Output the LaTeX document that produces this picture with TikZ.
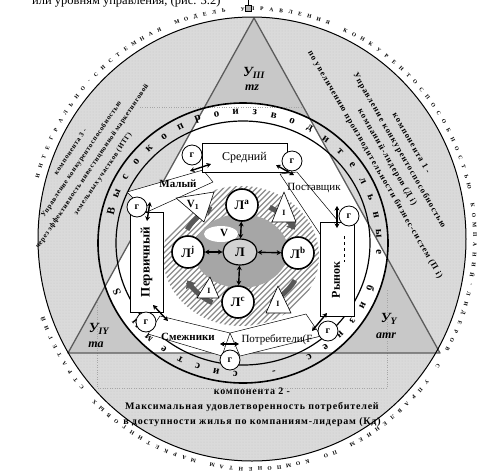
\documentclass[tikz,border=0pt]{standalone}
\usepackage{fontspec}
\setmainfont{Liberation Serif}
\newfontfamily\spacedr[LetterSpace=12]{Liberation Serif}
\newfontfamily\spacedl[LetterSpace=8]{Liberation Serif}
\newfontfamily\spacedb[LetterSpace=8]{Liberation Serif}
\usetikzlibrary{arrows.meta,patterns,shapes.geometric}
\definecolor{dotgrey}{HTML}{DADADA}
\definecolor{cornergrey}{HTML}{C8C8C8}
\definecolor{diskgrey}{HTML}{A6A6A6}
\definecolor{darkarrow}{HTML}{575757}
\definecolor{edgegrey}{HTML}{5C5C5C}
\definecolor{hatchgrey}{HTML}{8A8A8A}
\makeatletter
\newcount\rtcnt
\newcommand\ringletters[8]{%
  \global\rtcnt=0\relax
  \@tfor\rt@ch:=#8\do{%
    \pgfmathsetmacro\rt@a{#5-#6*\the\rtcnt}%
    \if\rt@ch*\relax\else
      \node[#7,rotate=\rt@a-90] at ({#1+#3*cos(\rt@a)},{#2-#4*sin(\rt@a)}) {\rt@ch};%
    \fi
    \global\advance\rtcnt by 1\relax
  }%
}
\makeatother
\begin{document}
\begin{tikzpicture}[x=1pt,y=-1pt,
  faint/.style={gray!70, dotted, line width=0.4pt},
  ringlet/.style={font=\fontsize{11}{11}\selectfont\bfseries, inner sep=0pt},
  outlet/.style={font=\fontsize{5.5}{6}\selectfont\bfseries, inner sep=0pt},
  hatchline/.style={hatchgrey, line width=1.3pt},
  darkarr/.style={darkarrow, line width=5pt, -{Triangle[length=7pt,width=11pt]}},
  strip/.style={draw, fill=white, line width=0.5pt, line join=round},
  box/.style={draw, fill=white, line width=0.7pt, inner sep=1pt},
  gnode/.style={circle, draw, line width=0.8pt, fill=white, minimum size=20pt, inner sep=0pt, font=\fontsize{10}{10}\selectfont\bfseries},
  dblarr/.style={{Stealth[length=4.5pt,width=5pt]}-{Stealth[length=4.5pt,width=5pt]}, line width=1.4pt},
  lnode/.style={circle, draw, line width=1.6pt, fill=white, minimum size=32pt, inner sep=0pt, font=\fontsize{13}{13}\selectfont\bfseries},
  lcenter/.style={ellipse, draw, line width=1.2pt, fill=gray!35, minimum width=34pt, minimum height=26pt, inner sep=0pt, font=\fontsize{13}{13}\selectfont\bfseries},
  itri/.style={draw, fill=white, line width=0.6pt, line join=round},
  lbl/.style={inner sep=0pt, font=\fontsize{11}{11}\selectfont\bfseries},
  lblr/.style={inner sep=0pt, font=\fontsize{11}{11}\selectfont},
  comptextr/.style={align=center, inner sep=0pt, font=\spacedr\bfseries\fontsize{8.5}{14}\selectfont},
  comptextl/.style={align=center, inner sep=0pt, font=\spacedl\bfseries\fontsize{7}{13}\selectfont},
  comptextb/.style={align=center, inner sep=0pt, font=\spacedb\bfseries\fontsize{10}{15}\selectfont},
  cornerlbl/.style={inner sep=0pt, font=\fontsize{14}{14}\selectfont\bfseries\itshape},
  cornersub/.style={inner sep=0pt, font=\fontsize{12}{12}\selectfont\bfseries\itshape}
]
\useasboundingbox (0,0) rectangle (477,475);

% outer big ellipse
\fill[dotgrey] (252,239) ellipse [x radius=214,y radius=222];
\fill[pattern=dots, pattern color=gray!45] (252,239) ellipse [x radius=214,y radius=222];

% triangle: white inside ring, grey corners
\begin{scope}
  \clip (254,18) -- (68,353) -- (440,353) -- cycle;
  \fill[white] (243,243) ellipse [x radius=145,y radius=140];
  \fill[cornergrey, even odd rule] (0,0) rectangle (477,475) (243,243) ellipse [x radius=145,y radius=140];
\end{scope}

% faint dotted text-box lines
\draw[faint] (140,107) -- (305,107);
\draw[faint] (97,300) -- (97,388) -- (387,388) -- (387,290);

% triangle edges and outer ellipse border
\draw[edgegrey, line width=1.3pt, line join=round] (254,18) -- (68,353) -- (440,353) -- cycle;
\draw[line width=1pt] (252,239) ellipse [x radius=214,y radius=222];

% ring of high-productivity business systems
\draw[line width=1.6pt] (243,243) ellipse [x radius=145,y radius=140];
\draw[line width=1.2pt] (243,243) ellipse [x radius=127,y radius=122];
\ringletters{243}{243}{136}{131}{166}{8.1}{ringlet}{Высокопроизводительные*бизнес*-*системы*S}

% outer ring text
\ringletters{252}{239}{223}{230}{164}{2.47}{outlet}{ИНТЕГРАЛЬНО-СИСТЕМНАЯ*МОДЕЛЬ*УПРАВЛЕНИЯ*КОНКУРЕНТОСПОСОБНОСТЬЮ*КОМПАНИЙ-ЛИДЕРОВ*С*УПРАВЛЕНИЕМ*ПО*КОМПОНЕНТАМ*МАРКЕТИНГОВЫХ*СТРАТЕГИЙ}

% hatched circle
\fill[white] (241,256) ellipse [x radius=78,y radius=70];
\begin{scope}
  \clip (241,256) ellipse [x radius=78,y radius=70];
  \foreach \k in {12,...,64} \draw[hatchline] ({\k*5.5},340) -- ({\k*5.5+170},170);
\end{scope}

% dark circulating arrows
\foreach \c in {45,135,225,315}
  \draw[darkarr] plot[domain=0:1, samples=12, smooth] ({241+61*cos(\c+17-34*\x)},{255-54*sin(\c+17-34*\x)});

% grey inner disk and light patch
\fill[diskgrey] (241,251) ellipse [x radius=47,y radius=37];
\fill[white] (221,234) ellipse [x radius=17,y radius=8];
\node[lbl] (vlab) at (224,233) {V};

% white strips
\draw[strip] (127,192) -- (203,170) -- (213,182) -- (147,212) -- cycle;
\draw[strip] (280,174) -- (297,172) -- (338,221) -- (320,234) -- cycle;
\draw[strip] (160,316) -- (230,333) -- (222,356) -- (148,334) -- cycle;
\draw[strip] (230,333) -- (306,314) -- (321,336) -- (240,356) -- cycle;
\draw[itri] (176,198) -- (214,192) -- (204,222) -- cycle;
\node[lbl] (v1) at (193,205) {V\textsubscript{1}};

% labels of strips
\node[lbl] (maly) at (178,184) {Малый};
\node[lblr] (post) at (314,188) {Поставщик};
\node[lbl] (smezh) at (188,337) {Смежники};
\node[lblr] (potr) at (277,340) {Потребители(F};

% boxes
\node[box, minimum width=85pt, minimum height=29pt, font=\fontsize{12}{12}\selectfont] (sred) at (244.5,157.5) {Средний};
\node[box, rotate=90, minimum width=100pt, minimum height=33pt, font=\fontsize{13}{13}\selectfont\bfseries] (perv) at (146.5,262) {Первичный};
\node[box, minimum width=34pt, minimum height=94pt] (ryn) at (337,269) {};
\node[rotate=90, inner sep=0pt, font=\fontsize{12}{12}\selectfont\bfseries] (rynt) at (336,280) {Рынок};
\draw[dashed, line width=0.4pt] (344,236) -- (344,262);

% small circles
\node[gnode] (g1) at (192,155) {г};
\node[gnode] (g2) at (292,161) {г};
\node[gnode] (g3) at (349,216) {г};
\node[gnode] (g4) at (328,331) {г};
\node[gnode] (g5) at (230,360) {г};
\node[gnode] (g6) at (146,322) {г};
\node[gnode] (g7) at (137,207) {г};

% double arrows at the circles
\coordinate (a1s) at (190,171); \coordinate (a1e) at (211,164);
\coordinate (a2s) at (276,165); \coordinate (a2e) at (294,175);
\coordinate (a3s) at (337,206); \coordinate (a3e) at (337,228);
\coordinate (a4s) at (150,202); \coordinate (a4e) at (147,221);
\coordinate (a5s) at (153,305); \coordinate (a5e) at (168,321);
\coordinate (a6s) at (220,344); \coordinate (a6e) at (239,344);
\coordinate (a7s) at (312,331); \coordinate (a7e) at (327,313);
\foreach \i in {1,...,7} \draw[dblarr] (a\i s) -- (a\i e);

% white triangles with I
\draw[itri] (284,192) -- (272,222) -- (296,222) -- cycle;
\node[inner sep=0pt, font=\fontsize{8}{8}\selectfont\bfseries] (i1) at (284,213) {I};
\draw[itri] (210,277) -- (197,298) -- (219,298) -- cycle;
\node[inner sep=0pt, font=\fontsize{8}{8}\selectfont\bfseries] (i2) at (209,291) {I};
\draw[itri] (278,286) -- (266,313) -- (291,313) -- cycle;
\node[inner sep=0pt, font=\fontsize{8}{8}\selectfont\bfseries] (i3) at (278,304) {I};

% leaders
\node[lcenter] (L) at (240,252) {Л};
\node[lnode] (La) at (242,205) {Л\textsuperscript{a}};
\node[lnode] (Lj) at (188,252) {Л\textsuperscript{j}};
\node[lnode] (Lb) at (298,253) {Л\textsuperscript{b}};
\node[lnode] (Lc) at (238,302) {Л\textsuperscript{c}};
\draw[dblarr] (L) -- (La);
\draw[dblarr] (L) -- (Lj);
\draw[dblarr] (L) -- (Lb);
\draw[dblarr] (L) -- (Lc);

% component texts
\node[comptextr, rotate=-60] (comp1) at (393,154) {компонента 1 -\\Управление конкурентоспособностью\\компаний-лидеров (Д i)\\по увеличению производительности бизнес-систем (П i)};
\node[comptextl, rotate=56] (comp3) at (87,163) {компонента 3 -\\Управление конкурентоспособностью\\через эффективность инвестиционной маркетинговой\\земельных участков (ИТГ)};
\node[comptextb] (comp2) at (252,407) {компонента 2 -\\Максимальная удовлетворенность потребителей\\в доступности жилья по компаниям-лидерам (Кд)};

% triangle corner labels
\node[cornerlbl] (u3) at (254,73) {У\textsubscript{III}};
\node[cornersub] (mz) at (252,88) {mz};
\node[cornerlbl] (u4) at (99,329) {У\textsubscript{IY}};
\node[cornersub] (ma) at (96,345) {ma};
\node[cornerlbl] (u5) at (389,319) {У\textsubscript{Y}};
\node[cornersub] (amr) at (386,336) {amr};

% cropped caption and marker at the top
\node[anchor=base west, inner sep=0pt, font=\fontsize{12.5}{12.5}\selectfont] (cap) at (32,4) {или уровням управления, (рис. 3.2)};
\draw[fill=gray!60, line width=0.4pt] (245,5) rectangle (251,11);
\draw[line width=0.4pt] (248,0) -- (248,5);
\end{tikzpicture}
\end{document}
